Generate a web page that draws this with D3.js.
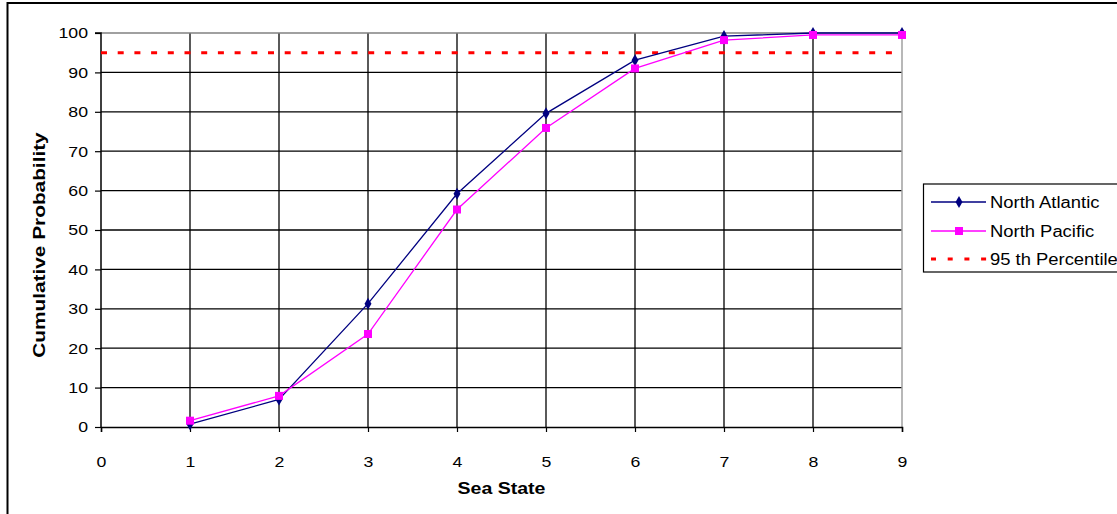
<!DOCTYPE html>
<html>
<head>
<meta charset="utf-8">
<script src="https://cdn.jsdelivr.net/npm/d3@7"></script>
<style>
  html, body { margin: 0; padding: 0; background: #fff; }
  svg { display: block; font-family: "Liberation Sans", Arial, sans-serif; }
</style>
</head>
<body>
<svg id="chart" width="1117" height="514"></svg>
<script>
const seaStates = [1, 2, 3, 4, 5, 6, 7, 8, 9];
const northAtlantic = [0.7, 7.0, 31.3, 59.2, 79.6, 93.1, 99.2, 100, 100];
const northPacific = [1.6, 7.9, 23.6, 55.2, 75.9, 91.0, 98.2, 99.5, 99.5];
const percentileValue = 95;
const xTicks = [0, 1, 2, 3, 4, 5, 6, 7, 8, 9];
const yTicks = [0, 10, 20, 30, 40, 50, 60, 70, 80, 90, 100];
const legendLabels = ["North Atlantic", "North Pacific", "95 th Percentile"];

(function () {
const svg = d3.select("#chart");

// stretch text horizontally (reference glyphs are wider than Arial)
function stretch(sel, k) {
  sel.each(function () {
    const len = this.getComputedTextLength();
    d3.select(this).attr("textLength", len * k).attr("lengthAdjust", "spacingAndGlyphs");
  });
}

// outer chart border
svg.append("rect").attr("x", 7.5).attr("y", 3).attr("width", 1120).attr("height", 520)
  .attr("fill", "none").attr("stroke", "#000").attr("stroke-width", 2);

const pL = 101, pR = 902, pT = 33, pB = 427;
const x = d3.scaleLinear().domain([0, 9]).range([pL, pR]);
const y = d3.scaleLinear().domain([0, 100]).range([pB, pT]);

// gridlines
const g = svg.append("g");
g.selectAll("line.hg").data(yTicks.filter(d => d > 0 && d < 100)).enter().append("line")
  .attr("x1", pL).attr("x2", pR).attr("y1", d => y(d)).attr("y2", d => y(d))
  .attr("stroke", "#000").attr("stroke-width", 1.3);
g.selectAll("line.vg").data(xTicks.filter(d => d > 0 && d < 9)).enter().append("line")
  .attr("y1", pT).attr("y2", pB).attr("x1", d => x(d)).attr("x2", d => x(d))
  .attr("stroke", "#000").attr("stroke-width", 1.3);
g.append("line").attr("x1", pL).attr("x2", pR).attr("y1", y(100)).attr("y2", y(100))
  .attr("stroke", "#808080").attr("stroke-width", 1.5);
g.append("line").attr("x1", x(9)).attr("x2", x(9)).attr("y1", pT).attr("y2", pB)
  .attr("stroke", "#a0a0a0").attr("stroke-width", 1.5);

// axes
const yAxis = d3.axisLeft(y).tickValues(yTicks).tickSize(6).tickPadding(7);
const ya = svg.append("g").attr("transform", `translate(${pL},0)`).call(yAxis);
const xAxis = d3.axisBottom(x).tickValues(xTicks).tickSize(5).tickPadding(24);
const xa = svg.append("g").attr("transform", `translate(0,${pB})`).call(xAxis);
[ya, xa].forEach(a => {
  a.attr("font-size", null).attr("font-family", null);
  a.select(".domain").attr("stroke", "#000").attr("stroke-width", 1.5);
  a.selectAll(".tick line").attr("stroke", "#000").attr("stroke-width", 1.2);
  a.selectAll(".tick text").attr("fill", "#000").style("font-size", "15px")
    .style("font-family", "'Liberation Sans', Arial, sans-serif");
  stretch(a.selectAll(".tick text"), 1.18);
});
ya.select(".domain").attr("d", `M-6,${pT}H0V${pB}`);

// axis titles
const xt = svg.append("text").attr("x", (pL + pR) / 2).attr("y", 494).attr("text-anchor", "middle")
  .style("font-size", "16px").style("font-weight", "bold").text("Sea State");
stretch(xt, 1.22);
const yt = svg.append("text").attr("transform", `translate(45,245) rotate(-90)`)
  .attr("text-anchor", "middle").style("font-size", "16px").style("font-weight", "bold")
  .text("Cumulative Probability");
stretch(yt, 1.3);

// 95th percentile line
svg.append("line").attr("x1", pL).attr("x2", pR)
  .attr("y1", y(percentileValue)).attr("y2", y(percentileValue))
  .attr("stroke", "#ff0000").attr("stroke-width", 3).attr("stroke-dasharray", "6,10.7");

const line = d3.line().x(d => x(d[0])).y(d => y(d[1]));
const naData = seaStates.map((s, i) => [s, northAtlantic[i]]);
const npData = seaStates.map((s, i) => [s, northPacific[i]]);

svg.append("path").datum(naData).attr("d", line).attr("fill", "none")
  .attr("stroke", "#000080").attr("stroke-width", 1.3);
svg.append("path").datum(npData).attr("d", line).attr("fill", "none")
  .attr("stroke", "#ff00ff").attr("stroke-width", 1.3);

const diamond = d3.symbol().type(d3.symbolDiamond).size(42);
svg.selectAll("path.na").data(naData).enter().append("path")
  .attr("transform", d => `translate(${x(d[0])},${y(d[1])})`)
  .attr("d", diamond).attr("fill", "#000080");
svg.selectAll("rect.np").data(npData).enter().append("rect")
  .attr("x", d => x(d[0]) - 4).attr("y", d => y(d[1]) - 4)
  .attr("width", 8).attr("height", 8).attr("fill", "#ff00ff");

// legend
const lg = svg.append("g");
lg.append("rect").attr("x", 923.5).attr("y", 184).attr("width", 200).attr("height", 88)
  .attr("fill", "#fff").attr("stroke", "#000").attr("stroke-width", 1.2);
const rows = [202, 231, 259];
lg.append("line").attr("x1", 931).attr("x2", 986).attr("y1", rows[0]).attr("y2", rows[0])
  .attr("stroke", "#000080").attr("stroke-width", 1.3);
lg.append("path").attr("transform", `translate(959,${rows[0]})`).attr("d", diamond).attr("fill", "#000080");
lg.append("line").attr("x1", 931).attr("x2", 986).attr("y1", rows[1]).attr("y2", rows[1])
  .attr("stroke", "#ff00ff").attr("stroke-width", 1.3);
lg.append("rect").attr("x", 955).attr("y", rows[1] - 4).attr("width", 8).attr("height", 8).attr("fill", "#ff00ff");
lg.append("line").attr("x1", 931).attr("x2", 987).attr("y1", rows[2]).attr("y2", rows[2])
  .attr("stroke", "#ff0000").attr("stroke-width", 3).attr("stroke-dasharray", "5,11.7");
const lt = lg.selectAll("text").data(legendLabels).enter().append("text")
  .attr("x", 990).attr("y", (d, i) => rows[i] + 6)
  .style("font-size", "16px").text(d => d);
stretch(lt, 1.15);
})();
</script>
</body>
</html>
